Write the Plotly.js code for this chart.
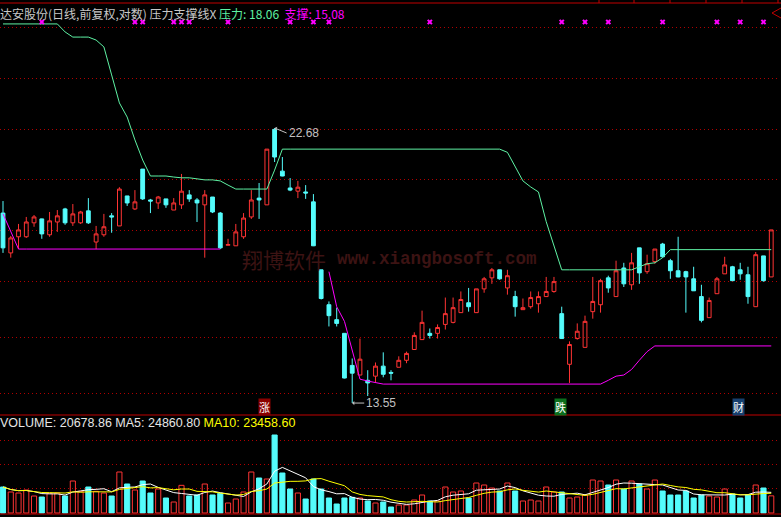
<!DOCTYPE html>
<html><head><meta charset="utf-8">
<script src="https://cdn.plot.ly/plotly-3.0.1.min.js"></script>
<style>html,body{margin:0;padding:0;background:#000;}#chart{width:781px;height:517px;}</style>
</head><body><div id="chart"></div>
<script>
// ---- data ----
const opens = [19.34,17.95,18.50,18.50,18.99,19.13,18.57,19.02,19.49,18.99,
 18.99,19.42,18.32,18.57,19.24,18.88,19.97,19.49,21.00,19.82,
 19.71,19.86,19.45,19.64,20.01,19.82,19.64,19.93,19.34,18.21,
 18.19,18.50,19.20,19.89,19.64,22.62,20.92,20.27,20.15,20.12,
 19.75,17.39,16.29,15.84,15.44,14.54,14.28,14.14,14.25,14.52,
 14.35,14.49,14.68,14.98,15.26,15.44,15.44,15.70,15.76,16.05,
 16.35,16.05,16.78,17.13,17.39,16.81,16.54,16.14,16.23,16.32,
 16.54,16.70,16.02,14.57,15.29,15.04,16.08,16.29,17.13,16.54,
 17.45,16.91,18.12,17.33,17.66,18.25,17.69,17.36,17.33,17.10,
 16.54,15.90,16.63,17.26,17.49,17.39,17.23,16.23,17.85,17.16];
const highs = [19.78,18.53,18.95,19.20,19.27,19.14,19.38,19.45,19.53,19.67,
 19.42,19.89,18.88,19.31,19.34,20.30,19.97,20.19,21.00,19.86,
 19.97,19.86,19.89,20.81,20.19,19.89,20.19,19.93,19.38,18.43,
 18.95,19.34,20.19,20.46,21.80,22.68,21.48,20.65,20.54,20.38,
 20.04,17.39,16.39,16.20,15.44,14.73,15.29,14.41,14.62,14.90,
 14.41,14.79,14.92,15.47,16.11,15.58,15.70,16.51,16.51,16.70,
 16.81,16.78,17.16,17.45,17.39,17.39,16.72,16.48,16.70,16.70,
 17.16,17.16,16.23,15.21,15.73,15.96,17.16,17.10,17.20,17.69,
 17.62,17.95,18.12,17.89,18.08,18.29,17.75,18.50,17.36,17.49,
 16.91,16.51,17.16,17.82,17.52,17.62,17.49,17.98,17.85,18.74];
const lows = [17.95,17.79,18.08,18.46,18.85,18.43,18.50,18.67,18.92,18.88,
 18.95,18.95,18.08,18.50,18.64,18.88,19.60,19.45,19.82,19.34,
 19.49,19.53,19.45,19.49,19.75,19.02,17.79,19.34,18.08,18.21,
 18.19,18.43,19.13,19.13,19.64,21.28,20.72,20.15,19.89,19.86,
 18.18,16.45,15.64,15.64,14.19,13.55,14.28,13.73,14.09,14.22,
 14.14,14.49,14.60,14.98,15.26,15.29,15.29,15.55,15.73,16.05,
 16.08,16.05,16.66,16.94,17.07,16.60,15.93,16.14,16.17,16.05,
 16.54,16.66,15.29,14.07,15.26,15.04,15.87,16.05,16.66,16.54,
 16.84,16.75,16.94,17.26,17.59,17.79,17.10,17.15,16.05,16.72,
 15.76,15.90,16.63,17.26,17.04,17.07,16.32,16.23,17.01,17.16];
const closes = [18.12,18.46,18.74,19.02,19.20,18.60,19.06,19.24,18.99,19.31,
 19.38,18.99,18.60,18.85,19.20,20.23,19.71,19.75,19.86,19.78,
 19.93,19.64,19.71,20.15,19.86,19.71,20.01,19.38,18.12,18.23,
 18.67,19.16,19.82,19.82,21.80,21.48,20.73,20.19,20.30,20.08,
 18.19,16.48,15.96,15.73,14.20,14.33,14.71,14.07,14.52,14.30,
 14.33,14.68,14.87,15.38,15.76,15.38,15.61,16.02,16.20,16.45,
 16.23,16.78,17.10,17.39,17.10,17.20,16.23,16.20,16.51,16.54,
 16.70,17.01,15.29,15.12,15.50,15.79,16.39,17.04,16.81,17.36,
 16.94,17.62,17.29,17.59,18.08,17.82,17.36,17.16,17.16,16.72,
 15.82,16.42,17.10,17.55,17.04,17.26,16.54,17.89,17.04,18.74];
const volumes = [31356,25326,24120,27738,20502,19296,23718,24120,20502,38592,
 26130,31356,26130,24120,20502,49446,34974,27738,38592,24120,
 28944,18090,13266,33366,20502,21708,34974,21708,23718,12060,
 16884,25326,49446,42210,41004,94068,48240,28944,24120,16884,
 41004,28944,18090,10854,18090,18894,18090,14472,12060,13266,
 7236,9648,9648,15678,21708,14472,14472,31356,25326,26532,
 18090,36180,33768,30150,26532,36180,26532,14472,15678,14472,
 31356,25326,25326,18090,19296,21708,39798,38592,33768,39798,
 28944,38592,34974,28944,39798,26532,21708,21708,26532,18090,
 21708,20502,19296,28944,22914,18090,21708,33768,30150,20679];
// 压力 (pressure) and 支撑 (support) indicator lines
const pressure = [27.56,27.56,27.56,27.56,27.56,27.56,27.56,27.56,27.15,26.89,
 26.89,26.89,26.74,26.40,25.05,23.77,23.15,22.18,21.36,20.73,
 20.73,20.73,20.69,20.66,20.66,20.62,20.58,20.58,20.54,20.38,
 20.23,20.23,20.23,20.23,20.23,20.96,21.80,21.80,21.80,21.80,
 21.80,21.80,21.80,21.80,21.80,21.80,21.80,21.80,21.80,21.80,
 21.80,21.80,21.80,21.80,21.80,21.80,21.80,21.80,21.80,21.80,
 21.80,21.80,21.80,21.80,21.80,21.67,21.09,20.54,20.31,20.12,
 19.03,18.19,17.39,17.39,17.39,17.39,17.39,17.39,17.39,17.39,
 17.39,17.39,17.49,17.59,17.62,17.79,18.06,18.06,18.06,18.06,
 18.06,18.06,18.06,18.06,18.06,18.06,18.06,18.06,18.06,18.06];
const support = [19.31,18.71,18.08,18.08,18.08,18.08,18.08,18.08,18.08,18.08,
 18.08,18.08,18.08,18.08,18.08,18.08,18.08,18.08,18.08,18.08,
 18.08,18.08,18.08,18.08,18.08,18.08,18.08,18.08,18.08,null,
 null,null,null,null,null,null,null,null,null,null,
 null,null,17.33,16.23,15.79,14.98,14.17,14.12,14.07,14.04,
 14.04,14.04,14.04,14.04,14.04,14.04,14.04,14.04,14.04,14.04,
 14.04,14.04,14.04,14.04,14.04,14.04,14.04,14.04,14.04,14.04,
 14.04,14.04,14.04,14.04,14.04,14.04,14.04,14.04,14.14,14.25,
 14.28,14.43,14.68,14.92,15.08,15.08,15.08,15.08,15.08,15.08,
 15.08,15.08,15.08,15.08,15.08,15.08,15.08,15.08,15.08,15.08];
const signalIdx = [5,17,18,22,23,24,29,37,40,42,55,72,75,78,85,92,95,98];
const signalLevel = 27.66;
const priceGrid = [13.80,15.33,17.02,18.73,20.60,22.62,24.89,27.39];
const volGrid = [30150,59094,88038];
const highMark = {i:35, v:22.68};
const lowMark = {i:45, v:13.55};
const eventMarks = [{i:33.7,t:'涨',c:'#8a0000'},{i:71.85,t:'跌',c:'#0b6e1c'},{i:94.8,t:'财',c:'#17406e'}];
const titleText = '达安股份(日线,前复权,对数) 压力支撑线X';
const volText = {vol:'20678.86', ma5:'24860.80', ma10:'23458.60'};

// ---- build ----
const idx = opens.map((_, i) => i);
const RED = '#ff3434', CYAN = '#54fcfc';
const isUp = idx.map(i => closes[i] >= opens[i]);
function ma(arr, n){ return arr.map((_, i) => { const s = Math.max(0, i-n+1); const w = arr.slice(s, i+1); return w.reduce((a,b)=>a+b,0)/w.length; }); }

const PT = 3, PB = 3, H = 517;
const plotH = H - PT - PB;             // 511
const volTopPx = 415, bottomPx = H - PB; // 514
const volDomTop = (bottomPx - volTopPx) / plotH;
const py = px => (bottomPx - px) / plotH; // pixel -> paper y

const traces = [
 { type:'candlestick', x: idx, open: opens, high: highs, low: lows, close: closes,
   xaxis:'x', yaxis:'y', hoverinfo:'skip', whiskerwidth:0,
   increasing:{ line:{color:RED, width:1}, fillcolor:'rgba(0,0,0,0)' },
   decreasing:{ line:{color:CYAN, width:1}, fillcolor:CYAN } },
 { type:'scatter', mode:'lines', x: idx, y: pressure, line:{color:'#5ef2a4', width:1},
   connectgaps:false, hoverinfo:'skip', xaxis:'x', yaxis:'y' },
 { type:'scatter', mode:'lines', x: idx, y: support, line:{color:'#ff00ff', width:1},
   connectgaps:false, hoverinfo:'skip', xaxis:'x', yaxis:'y' },
 { type:'scatter', mode:'markers', x: signalIdx, y: signalIdx.map(() => signalLevel),
   marker:{symbol:'x', size:5, color:'#ff00ff', line:{width:0}}, hoverinfo:'skip', xaxis:'x', yaxis:'y' },
 { type:'bar', x: idx, y: volumes, width:0.66, xaxis:'x', yaxis:'y2', hoverinfo:'skip',
   marker:{ color: isUp.map(u => u ? 'rgba(0,0,0,0)' : CYAN),
            line:{ color: isUp.map(u => u ? RED : CYAN), width:1 } } },
 { type:'scatter', mode:'lines', x: idx, y: ma(volumes,5), line:{color:'#ffffff', width:1}, hoverinfo:'skip', xaxis:'x', yaxis:'y2' },
 { type:'scatter', mode:'lines', x: idx, y: ma(volumes,10), line:{color:'#ffff00', width:1}, hoverinfo:'skip', xaxis:'x', yaxis:'y2' }
];

const GRID = '#b00000';
const pxPerLn = 534;
const yTopLog = Math.log10(22.68) + (128 - PT) / (pxPerLn * Math.LN10);
const yBotLog = Math.log10(22.68) - (volTopPx - 128) / (pxPerLn * Math.LN10);
const volPerPx = 1206;

const annotations = [
 { xref:'paper', yref:'paper', x:0, y:py(13), xanchor:'left', yanchor:'middle', showarrow:false, xshift:-2,
   text: titleText + '&nbsp;<span style="color:#5ef2a4">压力: 18.06</span>&nbsp;&nbsp;<span style="color:#ff00ff">支撑: 15.08</span>',
   font:{family:'Noto Sans CJK SC', size:12, color:'#c8c8c8'} },
 { xref:'paper', yref:'paper', x:0, y:py(423), xanchor:'left', yanchor:'middle', showarrow:false, xshift:-2,
   text: 'VOLUME: ' + volText.vol + ' MA5: ' + volText.ma5 + ' <span style="color:#ffff00">MA10: ' + volText.ma10 + '</span>',
   font:{family:'Liberation Sans', size:12.5, color:'#e6e6e6'} },
 { xref:'x', yref:'y', x: highMark.i, y: Math.log10(highMark.v), ax: 12, ay: 5, xanchor:'left', yanchor:'middle',
   showarrow:true, arrowhead:1, arrowsize:0.7, arrowwidth:1, arrowcolor:'#c0c0c0', standoff:0,
   text: highMark.v.toFixed(2), font:{family:'Liberation Sans', size:12, color:'#c0c0c0'} },
 { xref:'x', yref:'y', x: lowMark.i, y: Math.log10(lowMark.v), ax: 12, ay: 0, xanchor:'left', yanchor:'middle',
   showarrow:true, arrowhead:1, arrowsize:0.7, arrowwidth:1, arrowcolor:'#c0c0c0', standoff:0,
   text: lowMark.v.toFixed(2), font:{family:'Liberation Sans', size:12, color:'#c0c0c0'} },
 { xref:'paper', yref:'paper', x: 284/778, y: py(259), xanchor:'center', yanchor:'middle', showarrow:false,
   text:'翔博软件', font:{family:'Noto Sans CJK SC', size:21, color:'#3c1313'} },
 { xref:'paper', yref:'paper', x: 437/778, y: py(259), xanchor:'center', yanchor:'middle', showarrow:false,
   text:'www.xiangbosoft.com', font:{family:'Liberation Mono', size:17.5, color:'#3c1313', weight:'bold'} }
];
eventMarks.forEach(e => annotations.push({ xref:'x', yref:'paper', x:e.i, y:py(407), xanchor:'center', yanchor:'middle',
  showarrow:false, text:e.t, bgcolor:e.c, borderpad:0, font:{family:'Noto Sans CJK SC', size:11, color:'#ffffff'} }));

const shapes = [];
[1, volDomTop, 0].forEach(yv => shapes.push({type:'line', xref:'paper', yref:'paper', x0:0, x1:1.01, y0:yv, y1:yv, line:{color:'#c00000', width:1}}));
[599, 634, 670, 706, 742, 778].forEach(px => shapes.push({type:'line', xref:'paper', yref:'paper', x0:px/778, x1:px/778, y0:1, y1:1+PT/plotH, line:{color:'#c00000', width:1}}));
const dx = v => v/778;
shapes.push({type:'path', xref:'paper', yref:'paper', line:{color:'#c00000', width:1},
  path:`M ${dx(772)} ${py(13)} L ${dx(781)} ${py(8)} L ${dx(790)} ${py(13)} L ${dx(781)} ${py(18)} Z`});

const layout = {
  width:781, height:517, margin:{l:0, r:3, t:PT, b:PB, pad:0},
  paper_bgcolor:'#000', plot_bgcolor:'#000', showlegend:false, hovermode:false,
  boxgap:0.3,
  xaxis:{ range:[-0.387, 99.87], showgrid:false, zeroline:false, showticklabels:false, ticks:'',
          rangeslider:{visible:false}, fixedrange:true, anchor:'y2' },
  yaxis:{ type:'log', range:[yBotLog, yTopLog], domain:[volDomTop, 1], tickvals: priceGrid,
          showticklabels:false, ticks:'', showgrid:true, gridcolor:GRID, griddash:'1px,3px', gridwidth:1,
          zeroline:false, showline:false, fixedrange:true },
  yaxis2:{ range:[-volPerPx, (bottomPx - 1 - volTopPx) * volPerPx], domain:[0, volDomTop], tickvals: volGrid,
          showticklabels:false, ticks:'', showgrid:true, gridcolor:GRID, griddash:'1px,3px', gridwidth:1,
          zeroline:false, showline:false, fixedrange:true },
  annotations, shapes
};
Plotly.newPlot('chart', traces, layout, {staticPlot:true, displayModeBar:false});
</script>
</body></html>
